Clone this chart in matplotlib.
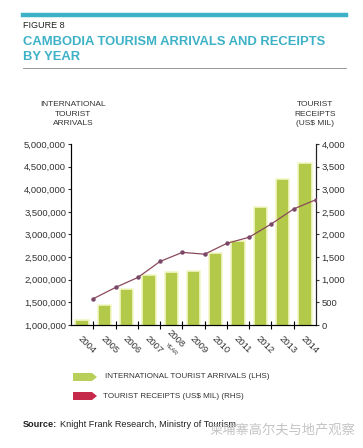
import numpy as np
import matplotlib.pyplot as plt
from matplotlib.patches import Polygon
from matplotlib.ticker import FuncFormatter

plt.rcParams['font.family'] = ['Liberation Sans', 'DejaVu Sans']

# dane
years = ['2004', '2005', '2006', '2007', '2008', '2009', '2010', '2011', '2012', '2013', '2014']
arrivals = [1100000, 1440000, 1800000, 2100000, 2170000, 2200000, 2590000, 2860000, 3610000, 4230000, 4580000]
receipts = [580, 830, 1050, 1405, 1605, 1565, 1805, 1940, 2235, 2565, 2770]
left_ticks = [1000000, 1500000, 2000000, 2500000, 3000000, 3500000, 4000000, 4500000, 5000000]
right_ticks = [0, 500, 1000, 1500, 2000, 2500, 3000, 3500, 4000]

W, H = 363, 448
teal = '#3db1c6'
bar_col = '#b2c94a'
line_col = '#8a4a5a'
txt = '#333333'


def fx(px):
    return px / W


def fy(py):
    return 1 - py / H


fig = plt.figure(figsize=(W / 100, H / 100), dpi=100)

# naglowek
fig.add_artist(plt.Line2D([fx(23), fx(346)], [fy(15), fy(15)], color=teal, lw=3.2))
fig.text(fx(23), fy(26), 'FIGURE 8', fontsize=6.5, color='#222222', va='center')
fig.text(fx(23), fy(42), 'CAMBODIA TOURISM ARRIVALS AND RECEIPTS', fontsize=9.4,
         fontweight='bold', color=teal, va='center')
fig.text(fx(23), fy(57), 'BY YEAR', fontsize=9.4, fontweight='bold', color=teal, va='center')
fig.add_artist(plt.Line2D([fx(23), fx(346)], [fy(68), fy(68)], color='#888888', lw=0.6))

# opisy osi
fig.text(fx(73), fy(114), 'INTERNATIONAL\nTOURIST\nARRIVALS', fontsize=6, color=txt,
         ha='center', va='center', linespacing=1.45)
fig.text(fx(315), fy(114), 'TOURIST\nRECEIPTS\n(US$ MIL)', fontsize=6, color=txt,
         ha='center', va='center', linespacing=1.45)

# wykres
ax = fig.add_axes([fx(71), fy(325), fx(316) - fx(71), (325 - 144) / H])
x = np.arange(len(years))
ax.bar(x, arrivals, width=0.6, color=bar_col, edgecolor='#f3f6c6', linewidth=1.2,
       bottom=0, zorder=2)
ax.set_ylim(1000000, 5000000)
ax.set_xlim(-0.5, len(years) - 0.5)
ax.set_yticks(left_ticks)
ax.yaxis.set_major_formatter(FuncFormatter(lambda v, p: f'{int(v):,}'))
ax.tick_params(axis='y', labelsize=6.8, colors=txt, length=2, width=0.8, pad=1.5)
ax.set_xticks(x[:-1] + 0.5)
ax.set_xticklabels([])
ax.tick_params(axis='x', direction='inout', length=6, width=0.8)
ax.spines['top'].set_visible(False)
for s in ['left', 'right', 'bottom']:
    ax.spines[s].set_linewidth(0.8)
    ax.spines[s].set_color('#222222')

ax2 = ax.twinx()
ax2.plot(x + 0.5, receipts, color=line_col, lw=0.9, marker='o', ms=2.2,
         mfc='#7a4868', mec='#7a4868', zorder=3)
ax2.set_ylim(0, 4000)
ax2.set_yticks(right_ticks)
ax2.yaxis.set_major_formatter(FuncFormatter(lambda v, p: f'{int(v):,}'))
ax2.tick_params(axis='y', labelsize=6.8, colors=txt, length=2, width=0.8, pad=2)
ax2.spines['top'].set_visible(False)
ax2.spines['right'].set_linewidth(0.8)
ax2.spines['right'].set_color('#222222')

# etykiety lat
for i, yr in enumerate(years):
    dy = -0.11 if yr != '2008' else -0.075
    ax.text(i + 0.22, dy, yr, transform=ax.get_xaxis_transform(), rotation=-45,
            ha='center', va='center', fontsize=6.8, color=txt)
ax.text(4.0, -0.135, 'YEAR', transform=ax.get_xaxis_transform(), rotation=-45,
        ha='center', va='center', fontsize=4, color=txt)

# legenda
def arrow(x0, yc, col):
    pts = [(x0, yc - 4), (x0 + 19, yc - 4), (x0 + 24, yc), (x0 + 19, yc + 4), (x0, yc + 4)]
    fig.add_artist(Polygon([(fx(a), fy(b)) for a, b in pts], closed=True,
                           transform=fig.transFigure, color=col, lw=0))


arrow(73, 377, '#b8cf5a')
fig.text(fx(105), fy(377), 'INTERNATIONAL TOURIST ARRIVALS (LHS)', fontsize=5.8,
         color=txt, va='center')
arrow(73, 396, '#c62a4b')
fig.text(fx(103), fy(396), 'TOURIST RECEIPTS (US$ MIL) (RHS)', fontsize=5.8,
         color=txt, va='center')

# zrodlo
src = fig.text(fx(23), fy(424), 'Source:', fontsize=6.6, fontweight='bold',
               color='#222222', va='center')
bb = src.get_window_extent(renderer=fig.canvas.get_renderer())
fig.text(bb.x1 / W + fx(3), fy(424), 'Knight Frank Research, Ministry of Tourism',
         fontsize=6.6, color='#222222', va='center')
fig.text(fx(210), fy(430), '柬埔寨高尔夫与地产观察', fontsize=9.5, color='#bdbdbd',
         alpha=0.9, va='center', family=['Noto Sans CJK SC', 'DejaVu Sans'])

fig.savefig('out.png', dpi=100)
